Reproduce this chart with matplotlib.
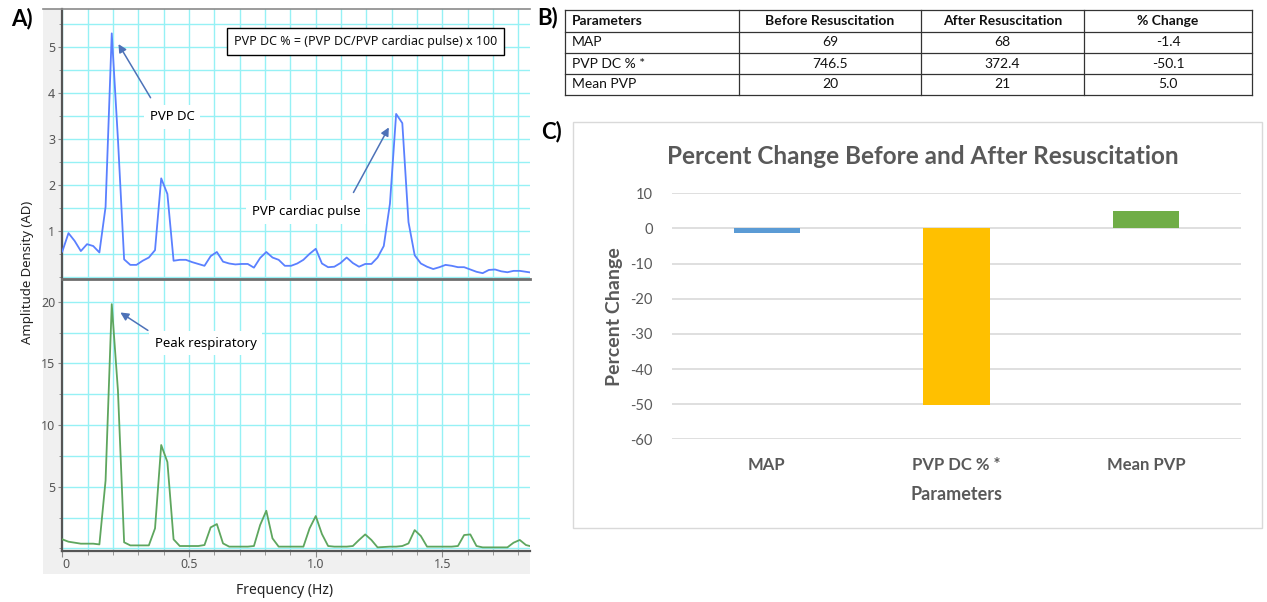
import numpy as np
import matplotlib
matplotlib.use("Agg")
import matplotlib.pyplot as plt
from matplotlib.ticker import MultipleLocator
from matplotlib.patches import Rectangle

plt.rcParams["axes.unicode_minus"] = False

W, H = 1267, 602

# ---- data -------------------------------------------------------------
freq_step = 0.0244  # Hz per spectrum bin
pvp_ad = [0.56, 0.96, 0.79, 0.57, 0.72, 0.68, 0.54, 1.53, 5.30, 3.00,
          0.39, 0.27, 0.27, 0.36, 0.43, 0.59, 2.15, 1.81, 0.36, 0.38,
          0.38, 0.33, 0.29, 0.25, 0.46, 0.55, 0.34, 0.30, 0.28, 0.29,
          0.29, 0.21, 0.42, 0.55, 0.43, 0.38, 0.25, 0.25, 0.30, 0.38,
          0.51, 0.62, 0.30, 0.22, 0.23, 0.31, 0.43, 0.31, 0.23, 0.29,
          0.29, 0.43, 0.68, 1.60, 3.55, 3.35, 1.20, 0.48, 0.30, 0.23,
          0.18, 0.22, 0.27, 0.25, 0.22, 0.22, 0.17, 0.12, 0.09, 0.16,
          0.17, 0.13, 0.11, 0.14, 0.14, 0.12, 0.10]
resp_ad = [0.73, 0.54, 0.46, 0.38, 0.38, 0.38, 0.32, 5.5, 19.8, 12.8,
           0.49, 0.24, 0.24, 0.24, 0.24, 1.62, 8.38, 7.0, 0.73, 0.19,
           0.19, 0.19, 0.19, 0.27, 1.70, 1.97, 0.40, 0.14, 0.14, 0.14,
           0.14, 0.19, 1.89, 3.05, 0.81, 0.14, 0.14, 0.14, 0.14, 0.14,
           1.62, 2.62, 1.16, 0.19, 0.14, 0.14, 0.14, 0.19, 0.68, 1.13,
           0.68, 0.08, 0.11, 0.14, 0.14, 0.19, 0.40, 1.48, 1.00, 0.14,
           0.14, 0.14, 0.14, 0.14, 0.19, 1.08, 1.13, 0.19, 0.08, 0.08,
           0.08, 0.08, 0.08, 0.46, 0.68, 0.27, 0.14]
freq = np.arange(len(pvp_ad)) * freq_step

params = ["MAP", "PVP DC % *", "Mean PVP"]
before = ["69", "746.5", "20"]
after = ["68", "372.4", "21"]
pct_change = [-1.4, -50.1, 5.0]
table_header = ["Parameters", "Before Resuscitation", "After Resuscitation", "% Change"]
bar_colors = ["#5B9BD5", "#FFC000", "#70AD47"]


def px(x0, y0, x1, y1):
    return [x0 / W, 1 - y1 / H, (x1 - x0) / W, (y1 - y0) / H]


fig = plt.figure(figsize=(W / 100, H / 100), dpi=100)
fig.patch.set_facecolor("white")

# ---- panel A ----------------------------------------------------------
bg = fig.add_axes(px(43, 9, 530, 574))
bg.set_facecolor("#f0f0f0")
bg.set_xticks([]); bg.set_yticks([])
for s in bg.spines.values():
    s.set_visible(False)

grid_c = "#96f1f5"
tick_c = "#555555"
afont = "Noto Sans"


def spectrum_axes(rect, y, color, ylim, major, minor):
    ax = fig.add_axes(rect)
    ax.plot(freq, y, color=color, lw=1.3, zorder=3)
    ax.set_xlim(0, 1.846)
    ax.set_ylim(*ylim)
    ax.xaxis.set_major_locator(MultipleLocator(0.5))
    ax.xaxis.set_minor_locator(MultipleLocator(0.1))
    ax.yaxis.set_major_locator(MultipleLocator(major))
    ax.yaxis.set_minor_locator(MultipleLocator(minor))
    ax.grid(True, which="both", color=grid_c, lw=1.0, zorder=0)
    for name, s in ax.spines.items():
        s.set_visible(name == "left")
    ax.spines["left"].set_color("#555555")
    ax.spines["left"].set_linewidth(1.6)
    ax.tick_params(axis="y", which="major", length=3, color="#888888",
                   labelsize=9, labelcolor=tick_c, pad=2)
    ax.tick_params(axis="y", which="minor", length=2, color="#888888")
    for lab in ax.get_yticklabels():
        lab.set_family(afont)
    return ax


ax_top = spectrum_axes(px(62.3, 9, 530, 278), pvp_ad, "#5a80ff",
                       (-0.015, 5.83), 1, 0.5)
ax_top.set_yticks([1, 2, 3, 4, 5])
ax_top.tick_params(axis="x", which="both", length=0, labelbottom=False)

ax_bot = spectrum_axes(px(62.3, 280, 530, 550.7), resp_ad, "#5ea65e",
                       (-0.19, 21.76), 5, 2.5)
ax_bot.set_yticks([5, 10, 15, 20])
ax_bot.spines["bottom"].set_visible(True)
ax_bot.spines["bottom"].set_color("#555555")
ax_bot.spines["bottom"].set_linewidth(1.6)
ax_bot.set_xticks([0, 0.5, 1.0, 1.5])
ax_bot.set_xticklabels(["0", "0.5", "1.0", "1.5"], family=afont)
ax_bot.tick_params(axis="x", which="major", length=4, color="#888888",
                   labelsize=9, labelcolor=tick_c, pad=1)
ax_bot.tick_params(axis="x", which="minor", length=3, color="#888888")
ax_bot.get_xticklabels()[0].set_horizontalalignment("left")

# separator and top border
fig.add_artist(plt.Line2D([62.3 / W, 530 / W], [1 - 279 / H] * 2,
                          color="#6e6e6e", lw=2))
fig.add_artist(plt.Line2D([43 / W, 530 / W], [1 - 9 / H] * 2,
                          color="#8a8a8a", lw=1.2))

fig.text(27 / W, 1 - 272 / H, "Amplitude Density (AD)", rotation=90,
         ha="center", va="center", fontsize=9.5, family=afont, color="#222222")
fig.text(285 / W, 1 - 590 / H, "Frequency (Hz)", ha="center", va="center",
         fontsize=10, family=afont, color="#222222")

arrow_c = "#4d72b8"
arr = dict(arrowstyle="-|>", color=arrow_c, lw=1.1, mutation_scale=12)
white_box = dict(facecolor="white", edgecolor="none", pad=4)

ax_top.annotate("", xy=(0.216, 5.12), xytext=(0.354, 3.85), arrowprops=arr, zorder=5)
ax_top.text(0.433, 3.49, "PVP DC", ha="center", va="center", fontsize=9.5,
            family=afont, bbox=white_box, zorder=4)
ax_top.annotate("", xy=(1.294, 3.31), xytext=(1.144, 1.79), arrowprops=arr, zorder=5)
ax_top.text(0.963, 1.42, "PVP cardiac pulse", ha="center", va="center",
            fontsize=9.5, family=afont, bbox=white_box, zorder=4)
ax_bot.annotate("", xy=(0.220, 19.25), xytext=(0.347, 17.55), arrowprops=arr, zorder=5)
ax_bot.text(0.567, 16.65, "Peak respiratory", ha="center", va="center",
            fontsize=9.5, family=afont, bbox=white_box, zorder=4)

fig.text(365.5 / W, 1 - 41.5 / H, "PVP DC % = (PVP DC/PVP cardiac pulse) x 100",
         ha="center", va="center", fontsize=9, family=afont, color="#111111",
         bbox=dict(facecolor="white", edgecolor="black", lw=1.0,
                   boxstyle="square,pad=0.55"))

# ---- overlay for table and labels -------------------------------------
ov = fig.add_axes([0, 0, 1, 1], zorder=-1)
ov.set_xlim(0, W); ov.set_ylim(H, 0); ov.axis("off")

fig.text(22 / W, 1 - 19 / H, "A)", fontsize=16, fontweight="bold",
         ha="center", va="center", family="Lato")
fig.text(548 / W, 1 - 18 / H, "B)", fontsize=16, fontweight="bold",
         ha="center", va="center", family="Lato")
fig.text(552 / W, 1 - 132 / H, "C)", fontsize=16, fontweight="bold",
         ha="center", va="center", family="Lato")

# ---- panel B: table ---------------------------------------------------
col_x = [565, 739, 921, 1084, 1252]
row_y = [10, 32, 53, 74, 95]
for x in col_x:
    ov.plot([x, x], [row_y[0], row_y[-1]], color="#333333", lw=0.9)
for y in row_y:
    ov.plot([col_x[0], col_x[-1]], [y, y], color="#333333", lw=0.9)

rows = [table_header] + [[p, b, a, f"{c:.1f}"]
                         for p, b, a, c in zip(params, before, after, pct_change)]
for r, row in enumerate(rows):
    yc = (row_y[r] + row_y[r + 1]) / 2
    for c, val in enumerate(row):
        if c == 0:
            xt, ha = col_x[0] + 7, "left"
        else:
            xt, ha = (col_x[c] + col_x[c + 1]) / 2, "center"
        ov.text(xt, yc, val, ha=ha, va="center", fontsize=10, family="Lato",
                fontweight="bold" if r == 0 else "normal", color="#111111")

# ---- panel C: bar chart -----------------------------------------------
ov.add_patch(Rectangle((573, 122), 1262 - 573, 528 - 122, facecolor="white",
                       edgecolor="#d9d9d9", lw=1))

axc = fig.add_axes(px(672, 193.3, 1241, 439.3))
axc.set_facecolor("none")
xpos = np.arange(len(params))
axc.bar(xpos, pct_change, width=0.35, color=bar_colors, zorder=3)
axc.set_xlim(-0.5, len(params) - 0.5)
axc.set_ylim(-60, 10)
axc.set_yticks(np.arange(-60, 11, 10))
axc.grid(True, axis="y", color="#d9d9d9", lw=1.2, zorder=0)
for s in axc.spines.values():
    s.set_visible(False)
axc.tick_params(axis="y", length=0, labelsize=10.5, labelcolor="#595959", pad=14)
for lab in axc.get_yticklabels():
    lab.set_family("Lato")
axc.set_xticks(xpos)
axc.set_xticklabels(params, family="Lato", fontweight="bold", fontsize=12,
                    color="#595959")
axc.tick_params(axis="x", length=0, pad=13)
axc.set_xlabel("Parameters", family="Lato", fontweight="bold", fontsize=13,
               color="#595959", labelpad=9)
axc.set_ylabel("Percent Change", family="Lato", fontweight="bold", fontsize=14,
               color="#595959", labelpad=5)
fig.text(923 / W, 1 - 157 / H, "Percent Change Before and After Resuscitation",
         ha="center", va="center", fontsize=17.5, fontweight="bold",
         family="Lato", color="#595959")

fig.savefig("out.png", dpi=100, facecolor="white")
